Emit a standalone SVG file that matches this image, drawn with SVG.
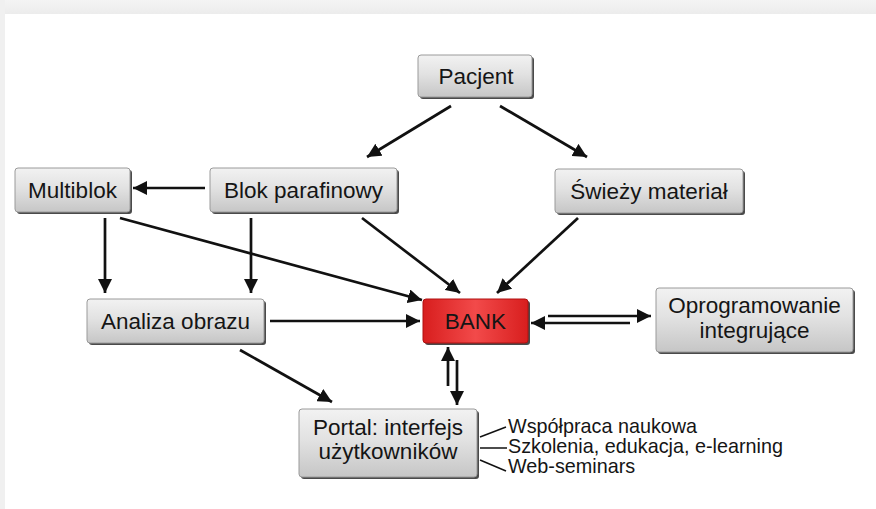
<svg xmlns="http://www.w3.org/2000/svg" width="876" height="509" viewBox="0 0 876 509">
<defs>
<linearGradient id="gBox" x1="0" y1="0" x2="0" y2="1">
<stop offset="0" stop-color="#f2f2f2"/>
<stop offset="0.45" stop-color="#e2e2e2"/>
<stop offset="1" stop-color="#c6c6c6"/>
</linearGradient>
<linearGradient id="gBank" x1="0" y1="0" x2="1" y2="0">
<stop offset="0" stop-color="#d81e1e"/>
<stop offset="0.5" stop-color="#f24a4a"/>
<stop offset="1" stop-color="#d81e1e"/>
</linearGradient>
<linearGradient id="gTop" x1="0" y1="0" x2="0" y2="1">
<stop offset="0" stop-color="#f4f4f4"/>
<stop offset="1" stop-color="#ececec"/>
</linearGradient>
<marker id="ah" viewBox="0 0 14 14" refX="14" refY="7" markerWidth="14" markerHeight="14" markerUnits="userSpaceOnUse" orient="auto">
<path d="M0,0 L14,7 L0,14 z" fill="#111"/>
</marker>
<style>
.sh{fill:#4a4a4a}
.box{fill:url(#gBox);stroke:#9a9a9a;stroke-width:1}
.bank{fill:url(#gBank);stroke:#b01010;stroke-width:1}
.t{font-family:"Liberation Sans",Arial,sans-serif;font-size:22.5px;fill:#151515;text-anchor:middle}
.s{font-family:"Liberation Sans",Arial,sans-serif;font-size:19.8px;fill:#151515}
.c{stroke:#111;stroke-width:2.7;fill:none;marker-end:url(#ah)}
.tk{stroke:#111;stroke-width:1.5;fill:none}
</style>
</defs>
<rect x="0" y="0" width="876" height="509" fill="#ffffff"/>
<rect x="0" y="0" width="876" height="14" fill="url(#gTop)"/>
<rect x="0" y="0" width="5" height="509" fill="#f0f0f0"/>

<g id="connectors">
<line class="c" x1="451" y1="106" x2="367" y2="157"/>
<line class="c" x1="500" y1="106" x2="587" y2="157"/>
<line class="c" x1="205" y1="188" x2="133" y2="188"/>
<line class="c" x1="105" y1="218" x2="105" y2="293"/>
<line class="c" x1="251" y1="218" x2="251" y2="293"/>
<line class="c" x1="120" y1="218" x2="422" y2="300"/>
<line class="c" x1="362" y1="218" x2="460" y2="293"/>
<line class="c" x1="578" y1="218" x2="497" y2="293"/>
<line class="c" x1="270" y1="321" x2="420" y2="321"/>
<line class="c" x1="548" y1="316" x2="651" y2="316"/>
<line class="c" x1="630" y1="323" x2="531" y2="323"/>
<line class="c" x1="448" y1="386" x2="448" y2="347"/>
<line class="c" x1="457" y1="360" x2="457" y2="405"/>
<line class="c" x1="240" y1="350" x2="332" y2="402"/>
<line class="tk" x1="480" y1="437" x2="506" y2="427"/>
<line class="tk" x1="480" y1="448" x2="507" y2="448"/>
<line class="tk" x1="480" y1="460" x2="506" y2="471"/>
</g>

<g id="pacjent">
<rect class="sh" x="420" y="57" width="114" height="42" rx="3"/>
<rect class="box" x="418" y="55" width="114" height="42" rx="3"/>
<text class="t" x="476" y="84">Pacjent</text>
</g>
<g id="multiblok">
<rect class="sh" x="17" y="170" width="115" height="44" rx="3"/>
<rect class="box" x="15" y="168" width="115" height="44" rx="3"/>
<text class="t" x="72.5" y="198">Multiblok</text>
</g>
<g id="blok">
<rect class="sh" x="212" y="170" width="187" height="44" rx="3"/>
<rect class="box" x="210" y="168" width="187" height="44" rx="3"/>
<text class="t" x="303.5" y="198">Blok parafinowy</text>
</g>
<g id="swiezy">
<rect class="sh" x="557" y="171" width="188" height="44" rx="3"/>
<rect class="box" x="555" y="169" width="188" height="44" rx="3"/>
<text class="t" x="649" y="199">Świeży materiał</text>
</g>
<g id="analiza">
<rect class="sh" x="89" y="301" width="177" height="44" rx="3"/>
<rect class="box" x="87" y="299" width="177" height="44" rx="3"/>
<text class="t" x="175.5" y="329">Analiza obrazu</text>
</g>
<g id="bank">
<rect class="sh" x="425" y="301" width="105" height="44" rx="3"/>
<rect class="bank" x="423" y="299" width="105" height="44" rx="3"/>
<text class="t" x="475.5" y="329">BANK</text>
</g>
<g id="oprogramowanie">
<rect class="sh" x="658" y="290" width="197" height="64" rx="3"/>
<rect class="box" x="656" y="288" width="197" height="64" rx="3"/>
<text class="t" x="754.5" y="313">Oprogramowanie</text>
<text class="t" x="754.5" y="338">integrujące</text>
</g>
<g id="portal">
<rect class="sh" x="301" y="411" width="178" height="68" rx="3"/>
<rect class="box" x="299" y="409" width="178" height="68" rx="3"/>
<text class="t" x="388" y="435">Portal: interfejs</text>
<text class="t" x="388" y="459">użytkowników</text>
</g>
<g id="labels">
<text class="s" x="508" y="433">Współpraca naukowa</text>
<text class="s" x="508" y="453">Szkolenia, edukacja, e-learning</text>
<text class="s" x="508" y="473">Web-seminars</text>
</g>
</svg>
